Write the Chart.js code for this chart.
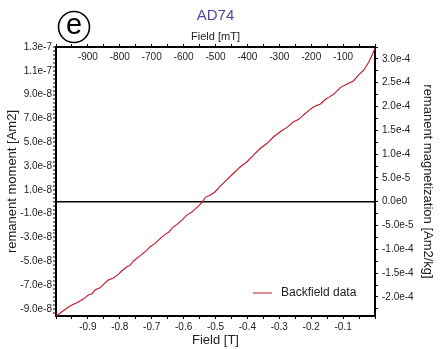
<!DOCTYPE html>
<html>
<head>
<meta charset="utf-8">
<script src="https://cdn.jsdelivr.net/npm/chart.js@4.4.1/dist/chart.umd.min.js"></script>
<style>
  html, body { margin: 0; padding: 0; background: #fff; }
  #wrap { width: 446px; height: 349px; }
</style>
</head>
<body>
<div id="wrap"><canvas id="backfield"></canvas></div>
<script>
// Backfield curve of sample AD74: applied field (T) vs remanent moment (Am2)
const fieldT = [
  -1.000, -0.977, -0.956, -0.935, -0.914, -0.899, -0.888, -0.878, -0.862, -0.851,
  -0.836, -0.820, -0.804, -0.794, -0.778, -0.768, -0.757, -0.747, -0.731, -0.715,
  -0.705, -0.689, -0.673, -0.658, -0.647, -0.634, -0.621, -0.605, -0.590, -0.574,
  -0.558, -0.543, -0.532, -0.516, -0.501, -0.485, -0.469, -0.445, -0.422, -0.401,
  -0.381, -0.359, -0.338, -0.318, -0.297, -0.276, -0.255, -0.239, -0.224, -0.208,
  -0.192, -0.171, -0.155, -0.145, -0.129, -0.108, -0.087, -0.067, -0.051, -0.035,
  -0.019, -0.009, 0.000
];
const momentAm2 = [
  -9.60e-8, -9.16e-8, -8.76e-8, -8.49e-8, -8.18e-8, -7.84e-8, -7.76e-8, -7.42e-8, -7.23e-8, -6.94e-8,
  -6.58e-8, -6.41e-8, -6.08e-8, -5.82e-8, -5.46e-8, -5.35e-8, -4.98e-8, -4.76e-8, -4.42e-8, -4.06e-8,
  -3.78e-8, -3.50e-8, -3.08e-8, -2.74e-8, -2.57e-8, -2.15e-8, -1.90e-8, -1.54e-8, -1.12e-8, -0.87e-8,
  -0.47e-8, -0.08e-8, 0.37e-8, 0.56e-8, 0.84e-8, 1.32e-8, 1.74e-8, 2.35e-8, 2.94e-8, 3.36e-8,
  3.92e-8, 4.49e-8, 4.91e-8, 5.46e-8, 5.88e-8, 6.25e-8, 6.72e-8, 6.92e-8, 7.29e-8, 7.65e-8,
  7.98e-8, 8.21e-8, 8.61e-8, 8.77e-8, 9.05e-8, 9.61e-8, 9.89e-8, 10.17e-8, 10.65e-8, 11.07e-8,
  11.76e-8, 12.33e-8, 12.90e-8
];
const sampleMassKg = 4.0e-4;

// labelled ticks on each axis
const fieldLabelsT = [-0.9, -0.8, -0.7, -0.6, -0.5, -0.4, -0.3, -0.2, -0.1];
const fieldLabelsMT = [-900, -800, -700, -600, -500, -400, -300, -200, -100];
const momentLabels = [1.3e-7, 1.1e-7, 9.0e-8, 7.0e-8, 5.0e-8, 3.0e-8, 1.0e-8,
  -1.0e-8, -3.0e-8, -5.0e-8, -7.0e-8, -9.0e-8];
const magnetLabels = [3.0e-4, 2.5e-4, 2.0e-4, 1.5e-4, 1.0e-4, 5.0e-5, 0,
  -5.0e-5, -1.0e-4, -1.5e-4, -2.0e-4];

const momentMin = -9.6e-8, momentMax = 1.3e-7;
const FONT = '"Liberation Sans", Arial, sans-serif';
const INK = '#222';

// evenly spaced tick values step*k between lo and hi (k integer)
function tickRange(lo, hi, step) {
  const out = [];
  for (let k = Math.ceil(lo / step - 1e-6); k * step <= hi + step * 1e-6; k++) {
    out.push({ value: k * step });
  }
  return out;
}
const isLabel = (list, v, unit) => list.some(l => Math.round(l / unit) === Math.round(v / unit));
const sci = v => v.toExponential(1).replace('+', '');

const axisBase = {
  border: { display: true, color: '#000', width: 2 },
  grid: { drawOnChartArea: false, drawTicks: true, tickLength: 3, tickColor: '#000', tickWidth: 1 },
};

// panel marker and in-plot legend
const decorations = {
  id: 'decorations',
  afterDraw(chart) {
    const { ctx, chartArea } = chart;
    ctx.save();
    ctx.strokeStyle = '#000';
    ctx.lineWidth = 1.6;
    ctx.beginPath();
    ctx.arc(74, 27, 15.5, 0, Math.PI * 2);
    ctx.stroke();
    ctx.fillStyle = '#000';
    ctx.font = '29px ' + FONT;
    ctx.textAlign = 'center';
    ctx.textBaseline = 'middle';
    ctx.fillText('e', 74, 25.5);

    const ds = chart.data.datasets[0];
    const lx = chartArea.right - 122;
    const ly = chartArea.bottom - 23;
    ctx.strokeStyle = ds.borderColor;
    ctx.lineWidth = 1;
    ctx.beginPath();
    ctx.moveTo(lx, ly);
    ctx.lineTo(lx + 19, ly);
    ctx.stroke();
    ctx.fillStyle = INK;
    ctx.font = '12px ' + FONT;
    ctx.textAlign = 'left';
    ctx.fillText(ds.label, lx + 28, ly);
    ctx.restore();
  }
};

new Chart(document.getElementById('backfield'), {
  type: 'line',
  data: {
    datasets: [{
      label: 'Backfield data',
      data: fieldT.map((f, i) => ({ x: f, y: momentAm2[i] })),
      borderColor: '#c41424',
      borderWidth: 1.1,
      pointRadius: 0,
      tension: 0,
      xAxisID: 'x',
      yAxisID: 'y'
    }]
  },
  options: {
    responsive: true,
    maintainAspectRatio: false,
    animation: false,
    layout: { padding: 0 },
    plugins: {
      legend: { display: false },
      tooltip: { enabled: false },
      title: {
        display: true,
        text: 'AD74',
        color: '#4b4b9b',
        fullSize: false,
        font: { family: FONT, size: 15, weight: 'normal' },
        padding: { top: 7, bottom: 3 }
      }
    },
    scales: {
      x: {
        ...axisBase,
        type: 'linear',
        position: 'bottom',
        min: -1.0, max: 0,
        afterBuildTicks: s => { s.ticks = tickRange(-1.0, 0, 0.05); },
        afterFit: s => { s.height = 33; },
        ticks: {
          autoSkip: false, maxRotation: 0, padding: 2, color: INK,
          font: { family: FONT, size: 10 },
          callback: v => isLabel(fieldLabelsT, v, 0.01) ? v.toFixed(1) : ''
        },
        title: { display: true, text: 'Field [T]', color: INK, font: { family: FONT, size: 13 }, padding: { top: 0, bottom: 1 } }
      },
      x2: {
        ...axisBase,
        type: 'linear',
        position: 'top',
        min: -1000, max: 0,
        afterBuildTicks: s => { s.ticks = tickRange(-1000, 0, 50); },
        afterFit: s => { s.height = 19; },
        ticks: {
          autoSkip: false, maxRotation: 0, mirror: true, padding: 4, color: INK,
          font: { family: FONT, size: 10 },
          callback: v => isLabel(fieldLabelsMT, v, 1) ? String(v) : ''
        },
        title: { display: true, text: 'Field [mT]', color: INK, font: { family: FONT, size: 11 }, padding: { top: 2, bottom: 0 } }
      },
      y: {
        ...axisBase,
        type: 'linear',
        position: 'left',
        min: momentMin, max: momentMax,
        grid: {
          ...axisBase.grid,
          drawOnChartArea: true,
          color: c => (c.tick && c.tick.value === 0 ? '#000' : 'rgba(0,0,0,0)'),
          lineWidth: c => (c.tick && c.tick.value === 0 ? 1.6 : 0)
        },
        afterBuildTicks: s => { s.ticks = tickRange(momentMin, momentMax, 1e-8 / 3); },
        afterFit: s => { s.width = 56; },
        ticks: {
          autoSkip: false, padding: 1, color: INK,
          font: { family: FONT, size: 10 },
          callback: v => isLabel(momentLabels, v, 1e-9) ? sci(v) : ''
        },
        title: { display: true, text: 'remanent moment [Am2]', color: INK, font: { family: FONT, size: 13 }, padding: { top: 5, bottom: 0 } }
      },
      y2: {
        ...axisBase,
        type: 'linear',
        position: 'right',
        min: momentMin / sampleMassKg, max: momentMax / sampleMassKg,
        afterBuildTicks: s => { s.ticks = tickRange(momentMin / sampleMassKg, momentMax / sampleMassKg, 2.5e-5); },
        afterFit: s => { s.width = 71; },
        ticks: {
          autoSkip: false, padding: 4, color: INK,
          font: { family: FONT, size: 10 },
          callback: v => isLabel(magnetLabels, v, 1e-6) ? sci(v) : ''
        },
        title: { display: true, text: 'remanent magnetization [Am2/kg]', color: INK, font: { family: FONT, size: 13 }, padding: { top: 11, bottom: 0 } }
      }
    }
  },
  plugins: [decorations]
});
</script>
</body>
</html>
